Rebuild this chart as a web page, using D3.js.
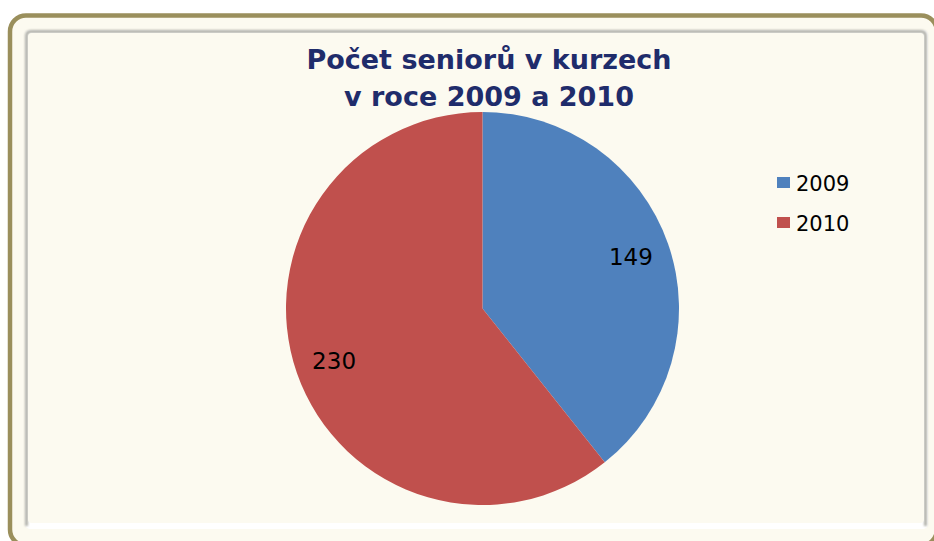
<!DOCTYPE html>
<html><head><meta charset="utf-8">
<script src="https://cdn.jsdelivr.net/npm/d3@7"></script>
<style>html,body{margin:0;padding:0;background:#fff;}svg{display:block;}</style>
</head><body>
<script>
const categories = ["2009", "2010"];
const values = [149, 230];
const colors = ["#4f81bd", "#c0504d"];
const titleLines = ["Počet seniorů v kurzech", "v roce 2009 a 2010"];

const W = 934, H = 541;
const FONT = "DejaVu Sans, Verdana, sans-serif";
const svg = d3.select("body").append("svg").attr("width", W).attr("height", H);

const defs = svg.append("defs");
const f = defs.append("filter").attr("id","bl").attr("x","-5%").attr("y","-5%").attr("width","110%").attr("height","110%");
f.append("feGaussianBlur").attr("stdDeviation",0.8);

// outer frame (extends past the right and bottom edges)
svg.append("rect").attr("x",10).attr("y",15.5).attr("width",927).attr("height",530).attr("rx",16)
  .attr("fill","#fcfaf0").attr("stroke","#9a8f5c").attr("stroke-width",4.5);
// inner panel
svg.append("rect").attr("x",25).attr("y",30).attr("width",903).attr("height",499).attr("rx",5)
  .attr("fill","#ffffff");
// grey edges left, top, right
svg.append("path")
  .attr("d","M26.5,526 L26.5,36 Q26.5,31.5 31,31.5 L921,31.5 Q925.5,31.5 925.5,36 L925.5,526")
  .attr("fill","none").attr("stroke","#b0b0a8").attr("stroke-width",3).attr("filter","url(#bl)");
svg.append("rect").attr("x",28).attr("y",33).attr("width",896).attr("height",490).attr("rx",4)
  .attr("fill","#fcfaf0");

// title
svg.append("text").attr("text-anchor","middle")
  .attr("font-family",FONT).attr("font-weight","bold")
  .attr("font-size",27).attr("fill","#1f2c6b")
  .selectAll("tspan").data(titleLines).join("tspan")
  .attr("x",489).attr("y",(d,i)=>69+i*37).text(d=>d);

// pie
const cx = 482.5, cy = 308.5, r = 196.5;
const pie = d3.pie().sort(null).value(d=>d.v);
const data = pie(categories.map((c,i)=>({c, v:values[i], col:colors[i]})));
const arc = d3.arc().innerRadius(0).outerRadius(r);
const g = svg.append("g").attr("transform",`translate(${cx},${cy})`);
g.selectAll("path").data(data).join("path").attr("d",arc).attr("fill",d=>d.data.col);

const labelArc = d3.arc().innerRadius(r*0.8).outerRadius(r*0.8);
g.selectAll("text.lbl").data(data).join("text").attr("class","lbl")
  .attr("transform",d=>{const [x,y]=labelArc.centroid(d);return `translate(${x},${y})`;})
  .attr("text-anchor","middle").attr("dy","0.36em")
  .attr("font-family",FONT).attr("font-size",23).attr("fill","#000")
  .text(d=>d.data.v);

// legend
const lg = svg.append("g").attr("transform","translate(777,183)");
const items = lg.selectAll("g").data(categories).join("g").attr("transform",(d,i)=>`translate(0,${i*40})`);
items.append("rect").attr("x",0).attr("y",-6).attr("width",13).attr("height",11).attr("fill",(d,i)=>colors[i]);
items.append("text").attr("x",19).attr("dy","0.36em").attr("y",0)
  .attr("font-family",FONT).attr("font-size",21).attr("fill","#000").text(d=>d);
</script>
</body></html>
